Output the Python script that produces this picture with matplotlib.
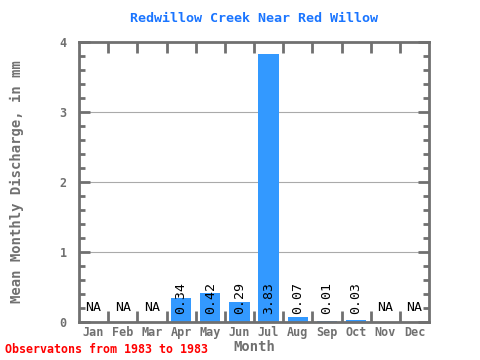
import matplotlib
matplotlib.use("Agg")
import matplotlib.pyplot as plt
import numpy as np
from matplotlib.ticker import MultipleLocator, FixedLocator

months = ["Jan", "Feb", "Mar", "Apr", "May", "Jun", "Jul", "Aug", "Sep", "Oct", "Nov", "Dec"]
discharge = [None, None, None, 0.34, 0.42, 0.29, 3.83, 0.07, 0.01, 0.03, None, None]
labels = ["NA", "NA", "NA", "0.34", "0.42", "0.29", "3.83", "0.07", "0.01", "0.03", "NA", "NA"]

GRAY = "#707070"
FONT = "DejaVu Sans Mono"

fig = plt.figure(figsize=(4.8, 3.6), dpi=100)
ax = fig.add_axes([0.1646, 0.1056, 0.7292, 0.7777])

x = np.arange(1, 13)
heights = [v if v is not None else 0 for v in discharge]
ax.bar(x, heights, width=0.7, color="#3399ff", zorder=2)

for xi, v, lab in zip(x, discharge, labels):
    if v is None:
        ax.text(xi, 0.12, lab, ha="center", va="bottom", fontsize=9.5, family=FONT, color="black")
    else:
        ax.text(xi, 0.12, lab, ha="center", va="bottom", rotation=90, fontsize=9.5,
                family=FONT, color="black", zorder=3)

ax.set_xlim(0.5, 12.5)
ax.set_ylim(0, 4)
ax.yaxis.set_major_locator(MultipleLocator(1))
ax.yaxis.set_minor_locator(MultipleLocator(0.2))
ax.grid(axis="y", which="major", color="#aaaaaa", linewidth=0.8, zorder=1)

ax.set_xticks(x)
ax.set_xticklabels(months)
ax.xaxis.set_minor_locator(FixedLocator(np.arange(1.5, 12.5, 1)))
ax.tick_params(axis="x", which="major", length=0, pad=3, labelsize=8.5, labelcolor=GRAY)
ax.tick_params(axis="x", which="minor", direction="in", length=8, width=2, color=GRAY,
               top=True, bottom=True)
ax.tick_params(axis="y", which="major", direction="in", length=8, width=2, color=GRAY,
               left=True, right=True, labelsize=8.5, labelcolor=GRAY, pad=9)
ax.tick_params(axis="y", which="minor", direction="in", length=4, width=2, color=GRAY,
               left=True, right=True)
for lab in ax.get_xticklabels() + ax.get_yticklabels():
    lab.set_family(FONT)
    lab.set_fontweight("bold")

for spine in ax.spines.values():
    spine.set_color(GRAY)
    spine.set_linewidth(2)

ax.set_xlabel("Month", family=FONT, fontsize=10, fontweight="bold", color=GRAY)
ax.xaxis.set_label_coords(0.5, -0.064)
ax.set_ylabel("Mean Monthly Discharge, in mm", family=FONT, fontsize=10, fontweight="bold",
              color=GRAY)
ax.yaxis.set_label_coords(-0.157, 0.5)

fig.text(254 / 480, 1 - 18 / 360, "Redwillow Creek Near Red Willow", family=FONT, fontsize=9.6,
         fontweight="bold", color="#1a75ff", ha="center", va="center")

fig.text(0.01, 0.012, "Observatons from 1983 to 1983", family=FONT, fontsize=8.4,
         fontweight="bold", color="red", ha="left", va="bottom")

fig.savefig("out.png", dpi=100)
